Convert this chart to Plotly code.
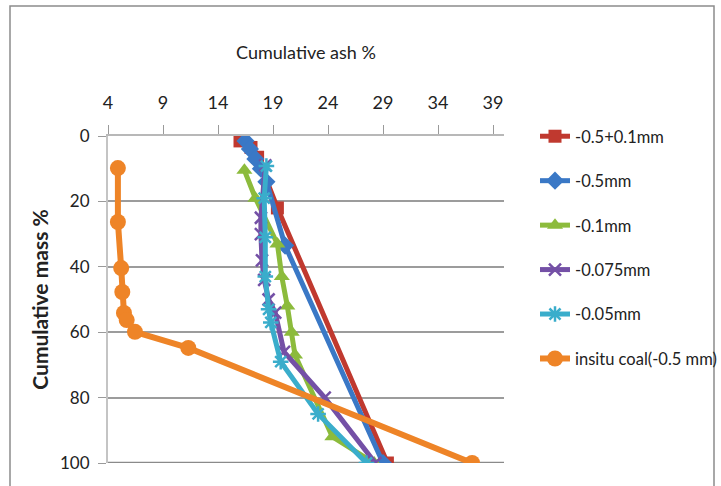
import plotly.graph_objects as go

# ---- data ----
x_ticks = [4, 9, 14, 19, 24, 29, 34, 39]
y_ticks = [0, 20, 40, 60, 80, 100]

red_name = "-0.5+0.1mm"
red_ash = [16.0, 17.0, 17.6, 19.4, 29.4]
red_mass = [1.5, 3.5, 6.5, 22.0, 100]

blue_name = "-0.5mm"
blue_ash = [16.5, 16.9, 17.4, 17.9, 18.4, 20.1, 29.0]
blue_mass = [1.5, 4, 7, 10, 14, 33.5, 100]

green_name = "-0.1mm"
green_ash = [16.4, 17.4, 19.4, 19.8, 20.3, 20.7, 21.0, 24.4, 28.2]
green_mass = [10.5, 19, 33, 43, 52, 60, 67, 92, 100]

purple_name = "-0.075mm"
purple_ash = [18.3, 17.9, 17.9, 18.0, 18.2, 18.6, 19.2, 20.0, 23.7, 28.3]
purple_mass = [9, 25, 30, 38, 44, 50, 54, 66, 80, 100]

cyan_name = "-0.05mm"
cyan_ash = [18.4, 18.2, 18.3, 18.3, 18.6, 18.8, 19.7, 23.1, 27.5]
cyan_mass = [9.2, 19, 31, 43, 53, 57, 69, 85, 100]

orange_name = "insitu coal(-0.5 mm)"
orange_ash = [4.9, 4.9, 5.2, 5.3, 5.45, 5.7, 6.45, 11.3, 37.1]
orange_mass = [9.8, 26.3, 40.4, 47.7, 54.1, 56.3, 59.9, 64.8, 100]

# ---- styling ----
W, H = 721, 486
L, R, T, B = 108, 217, 136, 23
PW, PH = W - L - R, H - T - B


def px_x(p):
    return (p - L) / PW


def px_y(p):
    return (H - B - p) / PH


FONT = "Lato, Roboto, sans-serif"
TXT = "#222222"

series = [
    (red_name, red_ash, red_mass, "#C0392F", "square", 13, 5, None),
    (blue_name, blue_ash, blue_mass, "#3A78C6", "diamond", 14, 5, None),
    (green_name, green_ash, green_mass, "#8CBB3C", "triangle-up", 14, 5, None),
    (purple_name, purple_ash, purple_mass, "#7450A6", "x-thin-open", 12, 5, 2.5),
    (cyan_name, cyan_ash, cyan_mass, "#3AADCB", "asterisk-open", 13, 5, 2.5),
    (orange_name, orange_ash, orange_mass, "#EE8427", "circle", 16, 6, None),
]

fig = go.Figure()
for i, (name, xs, ys, col, sym, size, lw, mlw) in enumerate(series):
    marker = dict(symbol=sym, size=size, color=col)
    if mlw is not None:
        marker["line"] = dict(color=col, width=mlw)
    else:
        marker["line"] = dict(width=0)
    fig.add_trace(go.Scatter(
        x=xs, y=ys, name=name, mode="lines+markers",
        line=dict(color=col, width=lw), marker=marker,
        legendgroup=f"g{i}",
    ))

fig.update_layout(
    width=W, height=H,
    margin=dict(l=L, r=R, t=T, b=B, pad=0, autoexpand=False),
    paper_bgcolor="white", plot_bgcolor="white",
    font=dict(family=FONT, size=18, color=TXT),
    legend=dict(
        x=px_x(535), y=px_y(119), xanchor="left", yanchor="top",
        font=dict(family=FONT, size=16.5, color=TXT),
        tracegroupgap=20, bgcolor="rgba(0,0,0,0)", maxheight=1.0,
    ),
    xaxis=dict(
        side="top", range=[4, 40], tickvals=x_ticks,
        ticks="outside", ticklen=9, tickcolor="#9a9a9a", tickwidth=1,
        showline=True, linecolor="#b8b8b8", linewidth=1.5,
        showgrid=False, zeroline=False,
        tickfont=dict(family=FONT, size=18, color=TXT),
        ticklabelstandoff=9,
        title=dict(text="Cumulative ash %", standoff=27,
                   font=dict(family=FONT, size=18, color=TXT)),
    ),
    yaxis=dict(
        range=[100, 0], tickvals=y_ticks,
        ticks="outside", ticklen=8, tickcolor="#9a9a9a", tickwidth=1,
        showline=True, linecolor="#c4c4c4", linewidth=2,
        showgrid=True, gridcolor="#9c9c9c", gridwidth=1.6,
        zeroline=False,
        tickfont=dict(family=FONT, size=17, color=TXT),
        ticklabelstandoff=5,
        title=dict(text="<b>Cumulative mass %</b>", standoff=6,
                   font=dict(family=FONT, size=21, color=TXT)),
    ),
    shapes=[
        dict(type="line", xref="paper", yref="y", x0=0, x1=1, y0=100, y1=100,
             line=dict(color="#8a8a8a", width=2.5), layer="below"),
        dict(type="rect", xref="paper", yref="paper",
             x0=px_x(10), x1=px_x(714), y0=px_y(492), y1=px_y(6),
             line=dict(color="#8c8c8c", width=1.5), layer="below"),
    ],
)

fig.write_html("out.html")
